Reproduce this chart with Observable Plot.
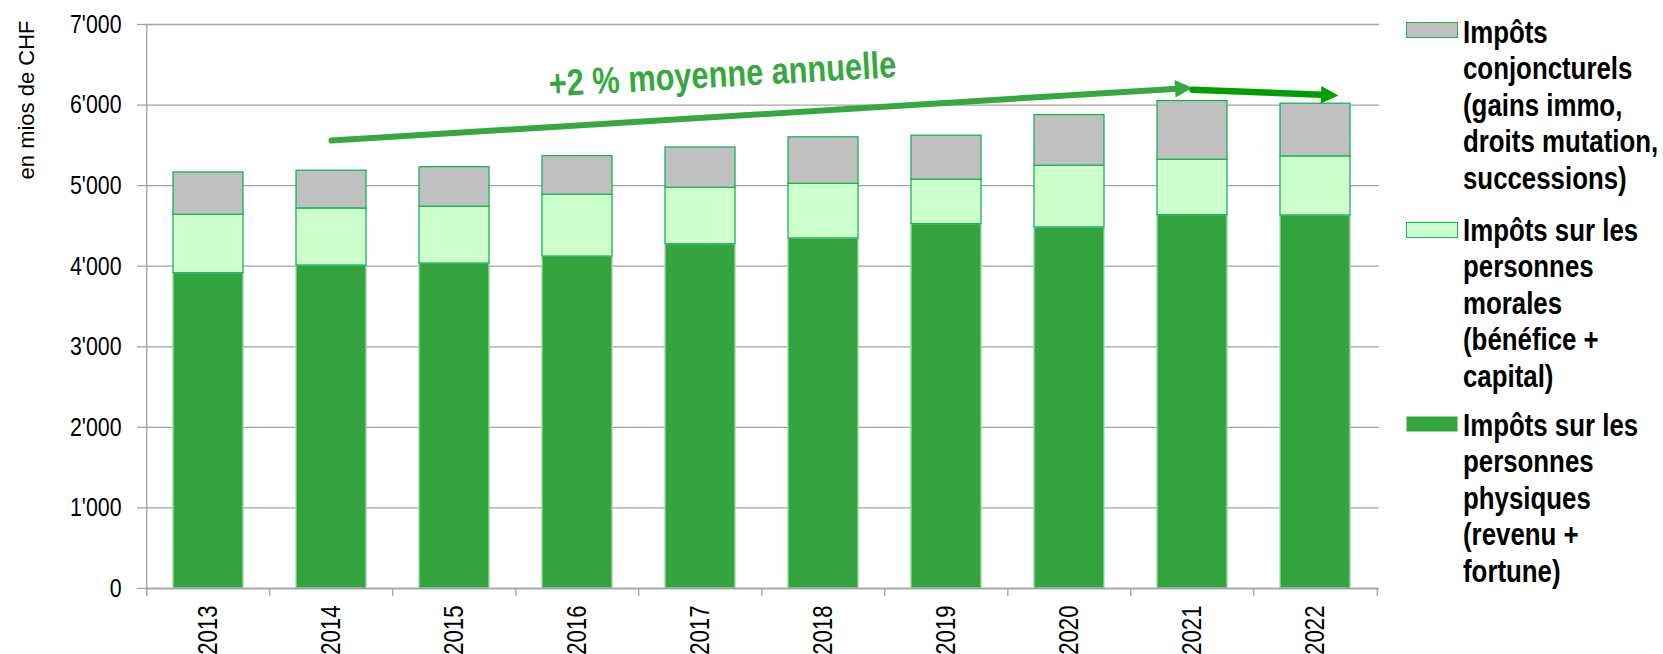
<!DOCTYPE html>
<html>
<head>
<meta charset="utf-8">
<script src="https://cdn.jsdelivr.net/npm/d3@7"></script>
<script src="https://cdn.jsdelivr.net/npm/@observablehq/plot@0.6"></script>
<style>
  html, body { margin: 0; padding: 0; background: #fff; }
  #wrap { position: relative; width: 1663px; height: 654px; overflow: hidden; font-family: 'Liberation Sans', Arial, sans-serif; }
  #wrap svg { position: absolute; left: 0; top: 0; }
  .lg-sw { position: absolute; left: 1406px; width: 52px; height: 16px; box-sizing: border-box; }
  .lg-tx { position: absolute; left: 1463px; font-weight: bold; font-size: 31.5px; line-height: 36.5px; color: #000; white-space: nowrap; transform: scaleX(0.82); transform-origin: 0 0; }
</style>
</head>
<body>
<div id="wrap"></div>
<script>
// ---- data ----
const years = ["2013","2014","2015","2016","2017","2018","2019","2020","2021","2022"];
const physiques     = [3913, 4009, 4034, 4120, 4273, 4344, 4522, 4481, 4634, 4630];
const morales       = [ 725,  708,  704,  767,  701,  679,  551,  766,  688,  733];
const conjoncturels = [ 526,  468,  492,  480,  500,  577,  547,  629,  728,  654];
const seriesKeys = ["physiques", "morales", "conjoncturels"];
const seriesLabels = [
  ["Impôts sur les", "personnes", "physiques", "(revenu +", "fortune)"],
  ["Impôts sur les", "personnes", "morales", "(bénéfice +", "capital)"],
  ["Impôts", "conjoncturels", "(gains immo,", "droits mutation,", "successions)"]
];
const yTicks = [0, 1000, 2000, 3000, 4000, 5000, 6000, 7000];
const yTitle = "en mios de CHF";
const trendLabel = "+2 % moyenne annuelle";
const trendLabelYear = "2017";
const trendLabelValue = 6375;
const arrowFromYear  = ["2014", "2021"];
const arrowFromValue = [5560, 6191];
const arrowToYear    = ["2021", "2022"];
const arrowToValue   = [6215, 6130];

// ---- styles ----
const fills   = {physiques: "#34a53e", morales: "#ccffcc", conjoncturels: "#c0c0c0"};
const strokes = {physiques: "#9ad8a8", morales: "#19b25a", conjoncturels: "#19b25a"};
const arrowColors = ["#36a83f", "#009e00"];
const arrowWidths = [6, 6.5];
const arrowOvershoot = [0, 23];
const headLen = 17.5;
const narrow = 0.82;

const W = 1663, H = 654, mL = 145, mR = 284, mT = 24, mB = 66;
const step = (W - mL - mR) / years.length;
const kY = (H - mT - mB) / 7000;

const rows = [];
years.forEach((yr, i) => {
  const vals = {physiques: physiques[i], morales: morales[i], conjoncturels: conjoncturels[i]};
  seriesKeys.forEach(k => rows.push({year: yr, key: k, value: vals[k]}));
});

const fmt = d3.formatLocale({decimal: ".", thousands: "'", grouping: [3], currency: ["", ""]}).format(",");

const arrows = arrowFromYear.map((f, i) => {
  const dxp = (years.indexOf(arrowToYear[i]) - years.indexOf(f)) * step;
  const dyp = -(arrowToValue[i] - arrowFromValue[i]) * kY;
  const ang = Math.atan2(dyp, dxp);
  return {x1: f, y1: arrowFromValue[i], x2: arrowToYear[i], y2: arrowToValue[i], ang, i};
});

const headSymbol = {
  draw(ctx, size) {
    const L = Math.sqrt(size);
    ctx.moveTo(0, 0);
    ctx.lineTo(L / 2, L);
    ctx.lineTo(-L / 2, L);
    ctx.closePath();
  }
};

const arrowMarks = [];
arrows.forEach(a => {
  const o = arrowOvershoot[a.i];
  arrowMarks.push(Plot.arrow([a], {
    x1: "x1", y1: "y1", x2: "x2", y2: "y2",
    stroke: arrowColors[a.i], strokeWidth: arrowWidths[a.i],
    headLength: 0, insetEnd: headLen * 0.6 - o, strokeLinecap: "round"
  }));
  arrowMarks.push(Plot.dot([a], {
    x: "x2", y: "y2",
    dx: o * Math.cos(a.ang), dy: o * Math.sin(a.ang),
    symbol: headSymbol, r: headLen / Math.sqrt(Math.PI),
    rotate: a.ang * 180 / Math.PI + 90,
    fill: arrowColors[a.i], stroke: "none"
  }));
});

const gray = "#a3a3a3";
const halfStep = step / 2;

const chart = Plot.plot({
  width: W, height: H,
  marginLeft: mL, marginRight: mR, marginTop: mT, marginBottom: mB,
  style: {fontFamily: "'Liberation Sans', Arial, sans-serif", color: "#000", background: "transparent"},
  x: {domain: years, paddingInner: 0.43, paddingOuter: 0.215, label: null},
  y: {domain: [0, 7000], label: null},
  color: {type: "identity"},
  marks: [
    Plot.gridY(yTicks, {stroke: gray, strokeOpacity: 1, strokeWidth: 1.3}),
    Plot.axisY(yTicks, {tickSize: 8, tickPadding: 16, stroke: gray, strokeOpacity: 1, strokeWidth: 1.3, fontSize: 26, tickFormat: fmt, label: null}),
    Plot.axisX({tickSize: 0, tickPadding: 17, tickRotate: -90, fontSize: 27, label: null}),
    Plot.barY(rows, {
      x: "year", y: "value",
      fill: d => fills[d.key], stroke: d => strokes[d.key], strokeWidth: 1.3
    }),
    Plot.ruleY([0], {stroke: gray, strokeWidth: 1.3}),
    Plot.ruleX(years, {x: d => d, dx: -halfStep, y1: -100, y2: 0, stroke: gray, strokeWidth: 1.3}),
    Plot.ruleX(years.slice(-1), {x: d => d, dx: halfStep, y1: -100, y2: 0, stroke: gray, strokeWidth: 1.3}),
    Plot.ruleX(years.slice(0, 1), {x: d => d, dx: -halfStep, y1: 0, y2: 7000, stroke: gray, strokeWidth: 1.3}),
    ...arrowMarks,
    Plot.text([trendLabel], {
      x: () => trendLabelYear, y: () => trendLabelValue, text: d => d, dx: 22,
      rotate: -3.2, fontSize: 37.5, fontWeight: "bold", fill: "#36a83f",
      textAnchor: "middle", lineAnchor: "middle"
    }),
    Plot.text([yTitle], {
      frameAnchor: "top-left", text: d => d, rotate: -90, textAnchor: "end", lineAnchor: "middle",
      dx: -119, dy: -4, fontSize: 22, fill: "#000"
    })
  ]
});

const wrap = document.getElementById("wrap");
wrap.appendChild(chart);

// condensed look (Arial Narrow-like) for the SVG texts, except the axis title
chart.querySelectorAll("text").forEach(t => {
  if (t.textContent === yTitle) return;
  const L = t.getComputedTextLength();
  if (L > 0) {
    t.setAttribute("textLength", (L * narrow).toFixed(2));
    t.setAttribute("lengthAdjust", "spacingAndGlyphs");
  }
});

// ---- legend (HTML, text kept as real text) ----
const legendOrder = [2, 1, 0];
const swTops = [22, 222, 416];
const txTops = [13.5, 211.7, 406.7];
legendOrder.forEach((si, j) => {
  const k = seriesKeys[si];
  const sw = document.createElement("div");
  sw.className = "lg-sw";
  sw.style.top = swTops[j] + "px";
  sw.style.background = fills[k];
  sw.style.border = "1.5px solid " + (k === "physiques" ? "#9ad8a8" : "#19b25a");
  wrap.appendChild(sw);
  const tx = document.createElement("div");
  tx.className = "lg-tx";
  tx.style.top = txTops[j] + "px";
  seriesLabels[si].forEach((line, li) => {
    if (li) tx.appendChild(document.createElement("br"));
    tx.appendChild(document.createTextNode(line));
  });
  wrap.appendChild(tx);
});
</script>
</body>
</html>
